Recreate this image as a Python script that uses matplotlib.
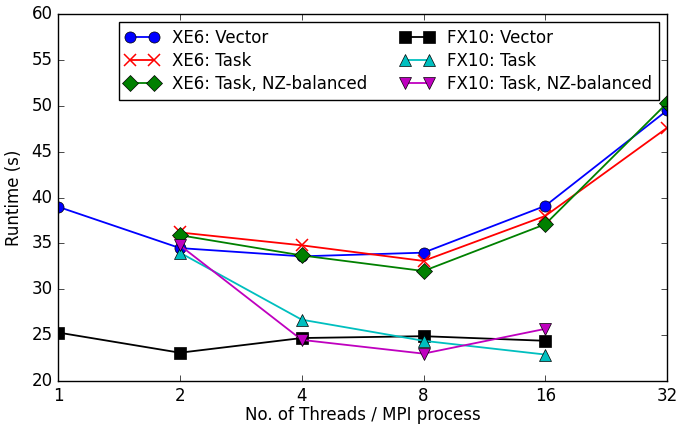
import numpy as np
import matplotlib
matplotlib.use('Agg')
import matplotlib.pyplot as plt

plt.style.use('classic')

threads = [1, 2, 4, 8, 16, 32]

xe6_vector = [39.0, 34.5, 33.6, 34.0, 39.1, 49.5]
xe6_task = [np.nan, 36.2, 34.8, 33.1, 38.0, 47.6]
xe6_task_nz = [np.nan, 35.9, 33.7, 32.0, 37.1, 50.3]
fx10_vector = [25.3, 23.1, 24.7, 24.9, 24.4, np.nan]
fx10_task = [np.nan, 34.0, 26.7, 24.4, 22.9, np.nan]
fx10_task_nz = [np.nan, 34.8, 24.5, 23.0, 25.7, np.nan]

fig = plt.figure(figsize=(7, 4.24), dpi=100)
ax = fig.add_axes([0.083, 0.101, 0.87, 0.866])

ms = 8
lw = 1.3
ax.plot(threads, xe6_vector, 'b-o', ms=ms, lw=lw, label='XE6: Vector')
ax.plot(threads, xe6_task, 'r-x', ms=ms + 1, lw=lw, mew=1.1, label='XE6: Task')
ax.plot(threads, xe6_task_nz, 'g-D', ms=ms, lw=lw, label='XE6: Task, NZ-balanced')
ax.plot(threads, fx10_vector, 'k-s', ms=ms, lw=lw, label='FX10: Vector')
ax.plot(threads, fx10_task, 'c-^', ms=ms, lw=lw, label='FX10: Task')
ax.plot(threads, fx10_task_nz, 'm-v', ms=ms, lw=lw, label='FX10: Task, NZ-balanced')

ax.set_xscale('log', base=2)
ax.set_xlim(1, 32)
ax.set_ylim(20, 60)
ax.set_xticks(threads)
ax.set_xticklabels([str(t) for t in threads])
ax.minorticks_off()
ax.set_xlabel('No. of Threads / MPI process', labelpad=1)
ax.set_ylabel('Runtime (s)', labelpad=6)
ax.legend(loc='upper right', ncol=2, numpoints=2, fontsize=12,
          labelspacing=0.3, columnspacing=2.0)

fig.savefig('out.png', dpi=100)
